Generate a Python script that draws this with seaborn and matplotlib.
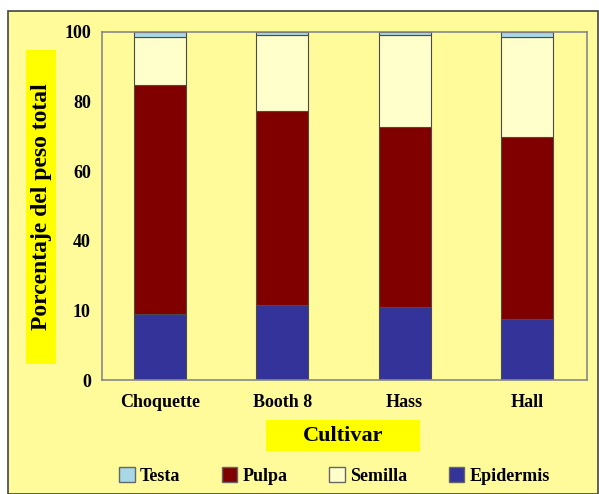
import matplotlib
matplotlib.use("Agg")
import matplotlib.pyplot as plt
from matplotlib.patches import Patch, Rectangle
import seaborn as sns
import numpy as np

cultivares = ["Choquette", "Booth 8", "Hass", "Hall"]
epidermis = [18.9, 21.6, 20.9, 17.5]
pulpa = [65.8, 55.8, 51.9, 52.4]
semilla = [13.8, 21.6, 26.3, 28.7]
testa = [1.5, 1.0, 0.9, 1.4]

y_ticks = [0, 20, 40, 60, 80, 100]
y_tick_labels = ["0", "10", "40", "60", "80", "100"]

fondo = "#FFFB9B"
colores = {
    "Epidermis": "#333399",
    "Pulpa": "#800000",
    "Semilla": "#FFFFCC",
    "Testa": "#A8D8E8",
}

sns.set_style("white")
plt.rcParams["font.family"] = ["Liberation Serif", "DejaVu Serif"]
plt.rcParams["text.color"] = "black"
plt.rcParams["xtick.color"] = "black"
plt.rcParams["ytick.color"] = "black"

fig = plt.figure(figsize=(5.99, 4.94), dpi=100)
fig.patch.set_facecolor("white")
fig.patches.append(Rectangle((8 / 599, 0), 1 - 8 / 599 - 1 / 599, 1 - 11 / 494,
                             transform=fig.transFigure, facecolor=fondo,
                             edgecolor="#444444", linewidth=1.2, zorder=-5))

ax = fig.add_axes([102 / 599, 114 / 494, 485 / 599, 348 / 494])
ax.set_facecolor(fondo)

base = np.zeros(len(cultivares))
for nombre, valores in [("Epidermis", epidermis), ("Pulpa", pulpa),
                        ("Semilla", semilla), ("Testa", testa)]:
    sns.barplot(x=cultivares, y=valores, bottom=base, color=colores[nombre],
                width=0.425, edgecolor="#4a4a4a", linewidth=0.8,
                saturation=1, ax=ax)
    base = base + np.array(valores)

ax.set_ylim(0, 100)
ax.set_xlim(-0.474, 3.49)
ax.set_yticks(y_ticks)
ax.set_yticklabels(y_tick_labels, fontsize=13, fontweight="bold")
ax.tick_params(axis="both", length=0, pad=8, colors="black")
ax.tick_params(axis="x", pad=10)
for lbl in ax.get_xticklabels():
    lbl.set_fontsize(13)
    lbl.set_fontweight("bold")
for s in ax.spines.values():
    s.set_color("#888888")
    s.set_linewidth(1.2)
ax.set_xlabel("")
ax.set_ylabel("")

# etiqueta eje y con recuadro amarillo
fig.patches.append(Rectangle((26 / 599, 130 / 494), 30 / 599, 314 / 494,
                             transform=fig.transFigure, facecolor="#FFFF00",
                             edgecolor="none", zorder=1))
fig.text(42 / 599, 287 / 494, "Porcentaje del peso total", rotation=90,
         ha="center", va="center", fontsize=17, fontweight="bold", zorder=2)

# etiqueta eje x
fig.patches.append(Rectangle((266 / 599, 43 / 494), 154 / 599, 31 / 494,
                             transform=fig.transFigure, facecolor="#FFFF00",
                             edgecolor="none", zorder=1))
fig.text(343 / 599, 58 / 494, "Cultivar", ha="center", va="center",
         fontsize=16, fontweight="bold", zorder=2)

orden = ["Testa", "Pulpa", "Semilla", "Epidermis"]
handles = [Patch(facecolor=colores[n], edgecolor="#666666", label=n) for n in orden]
fig.legend(handles=handles, loc="center", bbox_to_anchor=(334.5 / 599, 18 / 494),
           ncol=4, frameon=False, prop={"weight": "bold", "size": 13},
           handlelength=0.85, handleheight=0.85, handletextpad=0.3,
           columnspacing=2.3)

plt.savefig("out.png", dpi=100)
